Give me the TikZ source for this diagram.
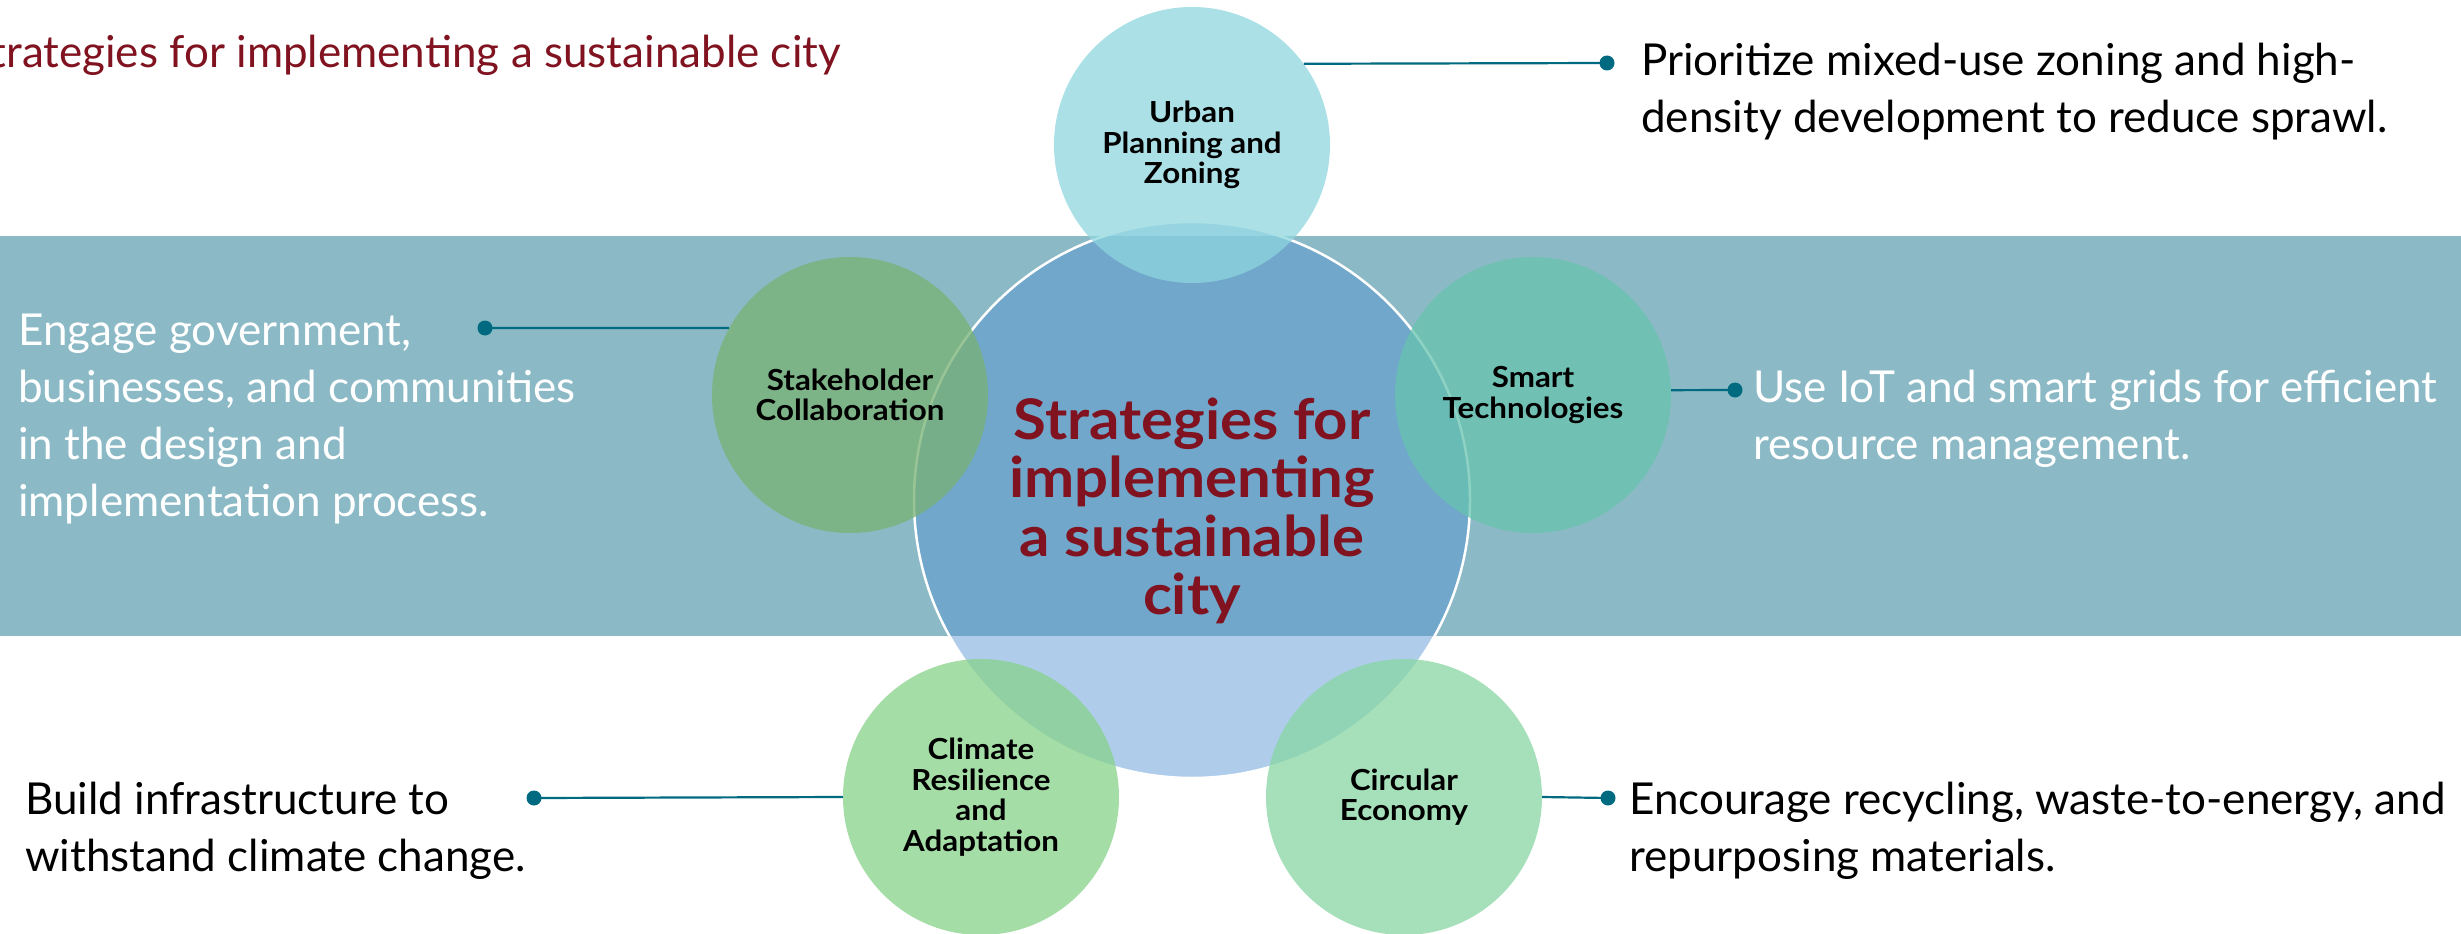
\documentclass[tikz,border=0pt]{standalone}
\usepackage{fontspec}
\setmainfont{Lato}
\definecolor{bandc}{RGB}{139,186,198}
\definecolor{bigc}{RGB}{81,146,209}
\definecolor{darkred}{RGB}{128,19,31}
\definecolor{tealc}{RGB}{0,106,128}
\definecolor{urbc}{RGB}{142,214,222}
\definecolor{stkc}{RGB}{119,177,114}
\definecolor{smtc}{RGB}{103,195,174}
\definecolor{clmc}{RGB}{135,210,138}
\definecolor{circc}{RGB}{136,214,163}
\begin{document}
\begin{tikzpicture}[x=1pt,y=-1pt,
  smallc/.style={circle, minimum size=276pt, inner sep=0pt, fill opacity=0.75, text opacity=1,
    align=center, font=\addfontfeatures{FakeStretch=1.08}\fontsize{29}{30.5}\selectfont\bfseries},
  conn/.style={draw=tealc, line width=2.2pt},
  dotn/.style={circle, fill=tealc, minimum size=15pt, inner sep=0pt},
  desc/.style={anchor=base west, inner sep=0pt, align=left, font=\fontsize{44}{57}\selectfont}]
\useasboundingbox (0,0) rectangle (2461,934);
\clip (0,0) rectangle (2461,934);
% band
\fill[bandc] (0,236) rectangle (2461,636);
% big circle
\node[circle, minimum size=556pt, inner sep=0pt, fill=bigc, fill opacity=0.46, draw=white, draw opacity=1, line width=2.5pt] (big) at (1192,500) {};
% small circles
\node[smallc, fill=urbc] (urban) at (1192,145) {Urban\\Planning and\\Zoning};
\node[smallc, fill=stkc] (stake) at (850,395) {Stakeholder\\Collaboration};
\node[smallc, fill=smtc] (smart) at (1533,395) {Smart\\Technologies};
\node[smallc, fill=clmc] (climate) at (981,797) {Climate\\Resilience\\and\\Adaptation};
\node[smallc, fill=circc] (circular) at (1404,797) {Circular\\Economy};
% centre text
\node[align=center, text=darkred, font=\addfontfeatures{FakeStretch=1.07}\fontsize{56}{58.5}\selectfont\bfseries] (ctext) at (1192,511) {Strategies for\\implementing\\a sustainable\\city};
% dots
\node[dotn] (d1) at (1607,63) {};
\node[dotn] (d2) at (485,328) {};
\node[dotn] (d3) at (1735,390) {};
\node[dotn] (d4) at (534,798) {};
\node[dotn] (d5) at (1608,798) {};
% connectors
\draw[conn] (urban.36) -- (d1.center);
\draw[conn] (stake.151) -- (d2.center);
\draw[conn] (smart.2) -- (d3.center);
\draw[conn] (climate.180) -- (d4.center);
\draw[conn] (circular.0) -- (d5.center);
% title
\node[anchor=base east, inner sep=0pt, text=darkred, font=\fontsize{44}{50}\selectfont] (title) at (841,68) {Strategies for implementing a sustainable city};
% descriptions (anchored at the baseline of the last line)
\node[desc] (t1) at (1641,132) {Prioritize mixed-use zoning and high-\\density development to reduce sprawl.};
\node[desc, text=white] (t2) at (18,516) {Engage government,\\businesses, and communities\\in the design and\\implementation process.};
\node[desc, text=white] (t3) at (1753,459) {Use IoT and smart grids for efficient\\resource management.};
\node[desc] (t4) at (25,871) {Build infrastructure to\\withstand climate change.};
\node[desc] (t5) at (1629,871) {Encourage recycling, waste-to-energy, and\\repurposing materials.};
\end{tikzpicture}
\end{document}
